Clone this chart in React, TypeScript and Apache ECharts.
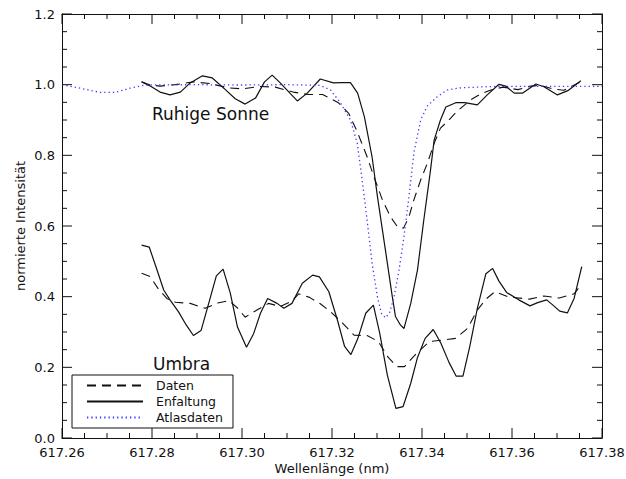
import React, { useEffect, useRef } from "react";
import * as echarts from "echarts";

// Ruhige Sonne (quiet sun)
const qsDatenLambda = [617.2777, 617.2796, 617.2818, 617.2852, 617.2892, 617.2929, 617.297, 617.3001, 617.3041, 617.3074, 617.3114, 617.3148, 617.3179, 617.3214, 617.3237, 617.3256, 617.3278, 617.3293, 617.3312, 617.333, 617.3346, 617.3359, 617.3371, 617.3382, 617.3397, 617.3412, 617.3427, 617.3441, 617.3456, 617.3479, 617.3508, 617.3531, 617.3553, 617.358, 617.3613, 617.3642, 617.3664, 617.3691, 617.3715, 617.3746, 617.3753];
const qsDatenValues = [1.008, 0.999, 0.996, 1.0, 1.008, 1.003, 0.991, 0.988, 0.995, 0.993, 0.979, 0.972, 0.972, 0.949, 0.919, 0.867, 0.796, 0.74, 0.674, 0.626, 0.597, 0.594, 0.626, 0.674, 0.73, 0.778, 0.834, 0.877, 0.895, 0.926, 0.957, 0.974, 0.985, 0.993, 0.986, 0.996, 0.998, 0.988, 0.984, 1.004, 1.008];

const qsEnfaltungLambda = [617.2777, 617.2796, 617.2818, 617.284, 617.2863, 617.2885, 617.2912, 617.2934, 617.2963, 617.2985, 617.3007, 617.303, 617.305, 617.3067, 617.3085, 617.3108, 617.3123, 617.3145, 617.3174, 617.3203, 617.3219, 617.3241, 617.3257, 617.3272, 617.3289, 617.3301, 617.3312, 617.3323, 617.3334, 617.3341, 617.3352, 617.336, 617.3375, 617.339, 617.3404, 617.3419, 617.3427, 617.3441, 617.3453, 617.3475, 617.3495, 617.3523, 617.3545, 617.3571, 617.3586, 617.3605, 617.3623, 617.3653, 617.3671, 617.3701, 617.3724, 617.3753];
const qsEnfaltungValues = [1.008, 0.996, 0.979, 0.971, 0.979, 1.005, 1.025, 1.019, 0.986, 0.96, 0.945, 0.962, 1.008, 1.027, 1.005, 0.974, 0.954, 0.976, 1.016, 1.005, 1.006, 1.006, 0.976, 0.909, 0.796, 0.683, 0.589, 0.495, 0.4, 0.344, 0.32, 0.31, 0.381, 0.476, 0.617, 0.759, 0.843, 0.9, 0.937, 0.949, 0.949, 0.943, 0.971, 1.001, 0.996, 0.976, 0.976, 1.002, 0.994, 0.971, 0.983, 1.011];

const atlasLambda = [617.26, 617.264, 617.2685, 617.2718, 617.2751, 617.2785, 617.29, 617.3, 617.31, 617.3174, 617.3197, 617.3219, 617.3241, 617.3256, 617.3267, 617.3278, 617.3289, 617.3301, 617.331, 617.3319, 617.3328, 617.3338, 617.3349, 617.336, 617.3371, 617.3382, 617.3397, 617.3412, 617.3434, 617.3456, 617.3486, 617.3559, 617.38];
const atlasValues = [1.0, 0.99, 0.978, 0.978, 0.99, 0.999, 1.0, 0.999, 1.0, 0.998, 0.985, 0.948, 0.9, 0.835, 0.73, 0.617, 0.495, 0.399, 0.352, 0.34, 0.355, 0.4, 0.475, 0.57, 0.683, 0.807, 0.9, 0.94, 0.966, 0.985, 0.991, 0.995, 0.995];

// Umbra
const umDatenLambda = [617.2777, 617.2796, 617.2814, 617.2833, 617.2852, 617.2885, 617.2918, 617.2946, 617.2971, 617.299, 617.3007, 617.3033, 617.3059, 617.3085, 617.3111, 617.3126, 617.315, 617.3174, 617.3197, 617.3219, 617.3249, 617.3278, 617.3303, 617.3325, 617.3344, 617.3361, 617.3388, 617.3417, 617.3445, 617.3475, 617.3501, 617.3523, 617.3542, 617.3562, 617.3592, 617.3639, 617.3671, 617.3705, 617.3738, 617.3753];
const umDatenValues = [0.466, 0.457, 0.422, 0.395, 0.384, 0.381, 0.367, 0.382, 0.389, 0.368, 0.342, 0.362, 0.381, 0.372, 0.388, 0.408, 0.398, 0.38, 0.357, 0.331, 0.291, 0.29, 0.273, 0.228, 0.202, 0.202, 0.24, 0.273, 0.277, 0.282, 0.31, 0.362, 0.393, 0.414, 0.399, 0.393, 0.402, 0.396, 0.408, 0.433];

const umEnfaltungLambda = [617.2777, 617.2794, 617.2811, 617.2826, 617.284, 617.2859, 617.2876, 617.2892, 617.2909, 617.2926, 617.2943, 617.2958, 617.2974, 617.299, 617.301, 617.3026, 617.3041, 617.3057, 617.3078, 617.3093, 617.3111, 617.3134, 617.3157, 617.3172, 617.3193, 617.3212, 617.3228, 617.3242, 617.3257, 617.3275, 617.3292, 617.3306, 617.3323, 617.3342, 617.3358, 617.3375, 617.339, 617.3407, 617.3425, 617.3442, 617.346, 617.3476, 617.3491, 617.3506, 617.3523, 617.3542, 617.3557, 617.3571, 617.3588, 617.3615, 617.364, 617.3657, 617.3677, 617.3691, 617.3706, 617.3723, 617.3738, 617.3755];
const umEnfaltungValues = [0.546, 0.54, 0.476, 0.419, 0.391, 0.357, 0.32, 0.29, 0.304, 0.381, 0.459, 0.478, 0.41, 0.314, 0.257, 0.296, 0.353, 0.395, 0.381, 0.367, 0.381, 0.438, 0.461, 0.456, 0.414, 0.334, 0.259, 0.236, 0.28, 0.353, 0.376, 0.297, 0.178, 0.084, 0.089, 0.155, 0.228, 0.282, 0.307, 0.268, 0.214, 0.175, 0.175, 0.258, 0.367, 0.465, 0.48, 0.444, 0.412, 0.391, 0.374, 0.383, 0.391, 0.376, 0.359, 0.354, 0.395, 0.485];

const legendNames = ["Daten", "Enfaltung", "Atlasdaten"];
const xMin = 617.26;
const xMax = 617.38;
const xInterval = 0.02;
const xMinorSplit = 4;
const yMin = 0;
const yMax = 1.2;
const yInterval = 0.2;
const yMinorSplit = 4;

const zip = (xs: number[], ys: number[]) => xs.map((x, i) => [x, ys[i]]);

const FONT = "DejaVu Sans";
const INK = "#111";
const BLUE = "#3a3aff";
const CHART_W = 626;
const CHART_H = 479;
const GRID = { left: 62, right: 24, top: 14, bottom: 41 };
const MAJOR_LEN = 10;
const MINOR_LEN = 5;

// tick positions along an axis: [value, isMajor]
function tickValues(min: number, max: number, interval: number, split: number) {
  const out: [number, boolean][] = [];
  const step = interval / split;
  const n = Math.round((max - min) / step);
  for (let i = 0; i <= n; i++) out.push([min + i * step, i % split === 0]);
  return out;
}

// inward frame ticks as broken line segments in data units
function buildTickSegments() {
  const plotW = CHART_W - GRID.left - GRID.right;
  const plotH = CHART_H - GRID.top - GRID.bottom;
  const perPxX = (xMax - xMin) / plotW;
  const perPxY = (yMax - yMin) / plotH;
  const seg: any[] = [];
  tickValues(xMin, xMax, xInterval, xMinorSplit).forEach(([v, major]) => {
    const h = (major ? MAJOR_LEN : MINOR_LEN) * perPxY;
    seg.push([v, yMin], [v, yMin + h], [v, "-"]);
    seg.push([v, yMax], [v, yMax - h], [v, "-"]);
  });
  tickValues(yMin, yMax, yInterval, yMinorSplit).forEach(([v, major]) => {
    const w = (major ? MAJOR_LEN : MINOR_LEN) * perPxX;
    seg.push([xMin, v], [xMin + w, v], ["-", v]);
    seg.push([xMax, v], [xMax - w, v], ["-", v]);
  });
  return seg;
}

export default function App() {
  const ref = useRef<HTMLDivElement>(null);
  useEffect(() => {
    if (!ref.current) return;
    const chart = echarts.init(ref.current, undefined, { renderer: "svg" });
    const dashed = { color: INK, width: 1.1, type: [9, 6] as any };
    const solid = { color: INK, width: 1.2, type: "solid" as any };
    const dotted = { color: BLUE, width: 1.3, type: [1.3, 3] as any };
    const lineOn = { show: true, onZero: false, lineStyle: { color: INK, width: 1 } };

    chart.setOption({
      animation: false,
      backgroundColor: "#fff",
      grid: { ...GRID, containLabel: false, outerBoundsMode: "none" },
      legend: {
        data: legendNames,
        orient: "vertical",
        left: 72,
        top: 375,
        itemWidth: 56,
        itemHeight: 12,
        itemGap: 3,
        borderColor: INK,
        borderWidth: 1,
        borderRadius: 0,
        padding: [4, 10, 4, 14],
        backgroundColor: "#fff",
        selectedMode: false,
        itemStyle: { color: "rgba(0,0,0,0)", borderWidth: 0, opacity: 0 },
        textStyle: { fontFamily: FONT, fontSize: 12.5, color: INK, padding: [0, 0, 0, 8] },
      },
      xAxis: [
        {
          type: "value",
          min: xMin,
          max: xMax,
          interval: xInterval,
          position: "bottom",
          name: "Wellenlänge (nm)",
          nameLocation: "middle",
          nameGap: 24,
          nameMoveOverlap: false,
          nameTextStyle: { fontFamily: FONT, fontSize: 13, color: INK },
          axisLine: lineOn,
          axisTick: { show: false },
          splitLine: { show: false },
          axisLabel: {
            fontFamily: FONT,
            fontSize: 13,
            color: INK,
            margin: 8,
            formatter: (v: number) => v.toFixed(2),
          },
        },
        {
          type: "value",
          min: xMin,
          max: xMax,
          interval: xInterval,
          position: "top",
          axisLine: lineOn,
          axisTick: { show: false },
          axisLabel: { show: false },
          splitLine: { show: false },
        },
      ],
      yAxis: [
        {
          type: "value",
          min: yMin,
          max: yMax,
          interval: yInterval,
          position: "left",
          name: "normierte Intensität",
          nameLocation: "middle",
          nameGap: 35,
          nameMoveOverlap: false,
          nameTextStyle: { fontFamily: FONT, fontSize: 13, color: INK },
          axisLine: lineOn,
          axisTick: { show: false },
          splitLine: { show: false },
          axisLabel: {
            fontFamily: FONT,
            fontSize: 13,
            color: INK,
            margin: 7,
            formatter: (v: number) => v.toFixed(1),
          },
        },
        {
          type: "value",
          min: yMin,
          max: yMax,
          interval: yInterval,
          position: "right",
          axisLine: lineOn,
          axisTick: { show: false },
          axisLabel: { show: false },
          splitLine: { show: false },
        },
      ],
      series: [
        { name: "Daten", type: "line", symbol: "none", data: zip(qsDatenLambda, qsDatenValues), lineStyle: dashed, itemStyle: { color: INK } },
        { name: "Enfaltung", type: "line", symbol: "none", data: zip(qsEnfaltungLambda, qsEnfaltungValues), lineStyle: solid, itemStyle: { color: INK } },
        { name: "Atlasdaten", type: "line", symbol: "none", data: zip(atlasLambda, atlasValues), lineStyle: dotted, itemStyle: { color: BLUE } },
        { name: "Daten", type: "line", symbol: "none", data: zip(umDatenLambda, umDatenValues), lineStyle: dashed, itemStyle: { color: INK } },
        { name: "Enfaltung", type: "line", symbol: "none", data: zip(umEnfaltungLambda, umEnfaltungValues), lineStyle: solid, itemStyle: { color: INK } },
        {
          name: "frameTicks",
          type: "line",
          symbol: "none",
          silent: true,
          connectNulls: false,
          clip: false,
          data: buildTickSegments(),
          lineStyle: { color: INK, width: 1, type: "solid" },
          itemStyle: { color: INK },
        },
      ],
      graphic: [
        { type: "text", x: 152, y: 114, style: { text: "Ruhige Sonne", font: `17px "${FONT}"`, fill: INK, verticalAlign: "middle" } },
        { type: "text", x: 153, y: 364, style: { text: "Umbra", font: `17px "${FONT}"`, fill: INK, verticalAlign: "middle" } },
      ],
    });
    return () => chart.dispose();
  }, []);
  return (
    <div
      ref={ref}
      style={{ position: "fixed", left: 0, top: 0, width: CHART_W, height: CHART_H, background: "#fff" }}
    />
  );
}
